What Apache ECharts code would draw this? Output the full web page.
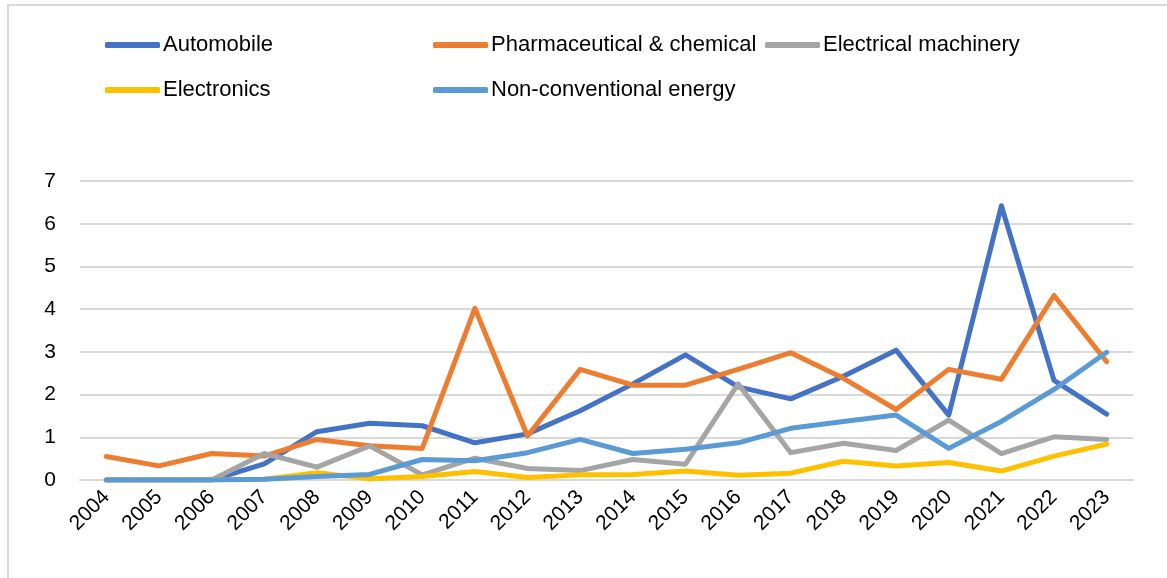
<!DOCTYPE html>
<html>
<head>
<meta charset="utf-8">
<script src="https://cdn.jsdelivr.net/npm/echarts@6/dist/echarts.min.js"></script>
<style>
  html, body { margin: 0; padding: 0; background: #fff; }
  #chart { width: 1167px; height: 578px; }
</style>
</head>
<body>
<div id="chart"></div>
<script>
// Years on the category axis
const years = ['2004','2005','2006','2007','2008','2009','2010','2011','2012','2013',
               '2014','2015','2016','2017','2018','2019','2020','2021','2022','2023'];

// Sector series values per year
const automobile      = [0, 0, 0, 0.38, 1.13, 1.33, 1.27, 0.87, 1.08, 1.62, 2.25, 2.93, 2.18, 1.9, 2.43, 3.04, 1.52, 6.42, 2.33, 1.54];
const pharmaChemical  = [0.55, 0.33, 0.62, 0.56, 0.95, 0.8, 0.74, 4.02, 1.03, 2.59, 2.22, 2.22, 2.59, 2.98, 2.38, 1.65, 2.59, 2.36, 4.32, 2.77];
const electricalMach  = [0, 0, 0, 0.62, 0.3, 0.8, 0.12, 0.51, 0.27, 0.22, 0.48, 0.37, 2.25, 0.64, 0.86, 0.69, 1.4, 0.62, 1.01, 0.95];
const electronics     = [0, 0, 0, 0.02, 0.17, 0.03, 0.08, 0.2, 0.06, 0.12, 0.13, 0.21, 0.11, 0.16, 0.44, 0.33, 0.41, 0.21, 0.56, 0.84];
const nonConventional = [0, 0, 0, 0.02, 0.08, 0.13, 0.48, 0.45, 0.64, 0.95, 0.62, 0.72, 0.87, 1.21, 1.37, 1.52, 0.74, 1.37, 2.12, 2.99];

// Y-axis tick range
const yMin = 0, yMax = 7, yStep = 1;

const FONT = '"Liberation Sans", Arial, sans-serif';
const GRID_COLOR = '#D9D9D9';

function lineSeries(name, data, color) {
  return {
    name: name,
    type: 'line',
    data: data,
    showSymbol: false,
    symbol: 'none',
    color: color,
    lineStyle: { width: 5, color: color, cap: 'round', join: 'round' },
    emphasis: { disabled: true },
    animation: false
  };
}

const legendBase = {
  orient: 'vertical',
  top: 29,
  itemGap: 23,
  itemWidth: 55,
  itemHeight: 6,
  icon: 'roundRect',
  textStyle: { fontFamily: FONT, fontSize: 22, color: '#000', padding: [0, 0, 0, -2] },
  selectedMode: false
};

const chart = echarts.init(document.getElementById('chart'), null, { renderer: 'canvas' });
chart.setOption({
  backgroundColor: '#fff',
  animation: false,
  graphic: [{
    type: 'rect',
    shape: { x: 8, y: 5, width: 1200, height: 620 },
    style: { fill: 'none', stroke: GRID_COLOR, lineWidth: 2 },
    silent: true
  }],
  legend: [
    Object.assign({}, legendBase, { left: 100, data: ['Automobile', 'Electronics'] }),
    Object.assign({}, legendBase, { left: 428, data: ['Pharmaceutical & chemical', 'Non-conventional energy'] }),
    Object.assign({}, legendBase, { left: 760, data: ['Electrical machinery'] })
  ],
  grid: { left: 80, right: 34, top: 181, bottom: 98, containLabel: false },
  xAxis: {
    type: 'category',
    data: years,
    boundaryGap: true,
    axisLine: { show: true, lineStyle: { color: GRID_COLOR, width: 2 } },
    axisTick: { show: false },
    axisLabel: { rotate: 45, fontFamily: FONT, fontSize: 21, color: '#000', margin: 14, interval: 0 }
  },
  yAxis: {
    type: 'value',
    min: yMin,
    max: yMax,
    interval: yStep,
    axisLine: { show: false },
    axisTick: { show: false },
    splitLine: { lineStyle: { color: GRID_COLOR, width: 2 } },
    axisLabel: { fontFamily: FONT, fontSize: 21, color: '#000', margin: 24 }
  },
  series: [
    lineSeries('Automobile', automobile, '#4472C4'),
    lineSeries('Pharmaceutical & chemical', pharmaChemical, '#ED7D31'),
    lineSeries('Electrical machinery', electricalMach, '#A5A5A5'),
    lineSeries('Electronics', electronics, '#FFC000'),
    lineSeries('Non-conventional energy', nonConventional, '#5B9BD5')
  ]
});
</script>
</body>
</html>
